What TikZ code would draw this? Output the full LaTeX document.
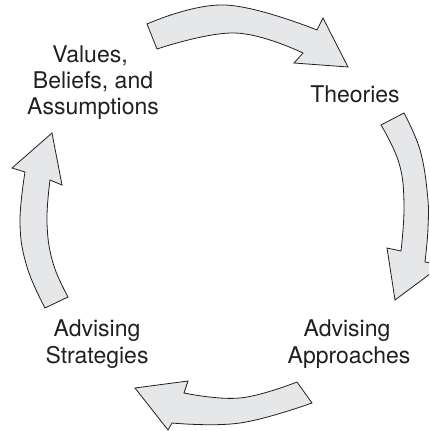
\documentclass[tikz,border=0pt]{standalone}
\usepackage{fontspec}
\setmainfont{TeX Gyre Heros}
\definecolor{arrowfill}{HTML}{E6E7E8}
\definecolor{inkc}{HTML}{231F20}
\begin{document}
\begin{tikzpicture}[x=1pt,y=-1pt,
  cyclearrow/.style={draw=inkc,fill=arrowfill,line width=0.8pt,line join=miter},
  lbl/.style={anchor=base,inner sep=0pt,text=inkc,font=\fontsize{23}{26.7}\selectfont}]
\clip (0,0) rectangle (429,431);
% top arrow
\draw[cyclearrow] (147,24) -- plot[smooth,tension=0.7] coordinates {(147,24) (225,5) (317,30)}
  -- (323,18) -- (348,67) -- (294,63) -- (303,53)
  -- plot[smooth,tension=0.7] coordinates {(303,53) (235,33) (157,49)} -- cycle;
% right arrow
\draw[cyclearrow] (381,125) -- (404,113)
  -- plot[smooth,tension=0.7] coordinates {(404,113) (420,150) (427.5,195) (428,228) (425,262)}
  -- (442,265) -- (395,300) -- (387,248) -- (401,251)
  -- plot[smooth,tension=0.7] coordinates {(401,251) (404,205) (399,163) (381,125)} -- cycle;
% bottom arrow
\draw[cyclearrow] (297,382) -- (312,403)
  -- plot[smooth,tension=0.7] coordinates {(312,403) (240,423) (172,423)}
  -- (168,430) -- (135,388) -- (188,381) -- (184,393)
  -- plot[smooth,tension=0.7] coordinates {(184,393) (240,398) (297,382)} -- cycle;
% left arrow
\draw[cyclearrow] (45,308) -- plot[smooth,tension=0.7] coordinates {(45,308) (27,267) (20,223) (25,172)}
  -- (12,168) -- (52,133) -- (62,185) -- (50,180)
  -- plot[smooth,tension=0.7] coordinates {(50,180) (47,223) (53,263) (68,297)} -- cycle;
% labels
\node[lbl] (v1) at (90,62) {Values,};
\node[lbl] (v2) at (93,88) {Beliefs, and};
\node[lbl] (v3) at (93,114) {Assumptions};
\node[lbl] (th) at (355,102) {Theories};
\node[lbl] (a1) at (347,336.5) {Advising};
\node[lbl] (a2) at (349,363) {Approaches};
\node[lbl] (s1) at (97,336.5) {Advising};
\node[lbl] (s2) at (97,363) {Strategies};
\end{tikzpicture}
\end{document}
